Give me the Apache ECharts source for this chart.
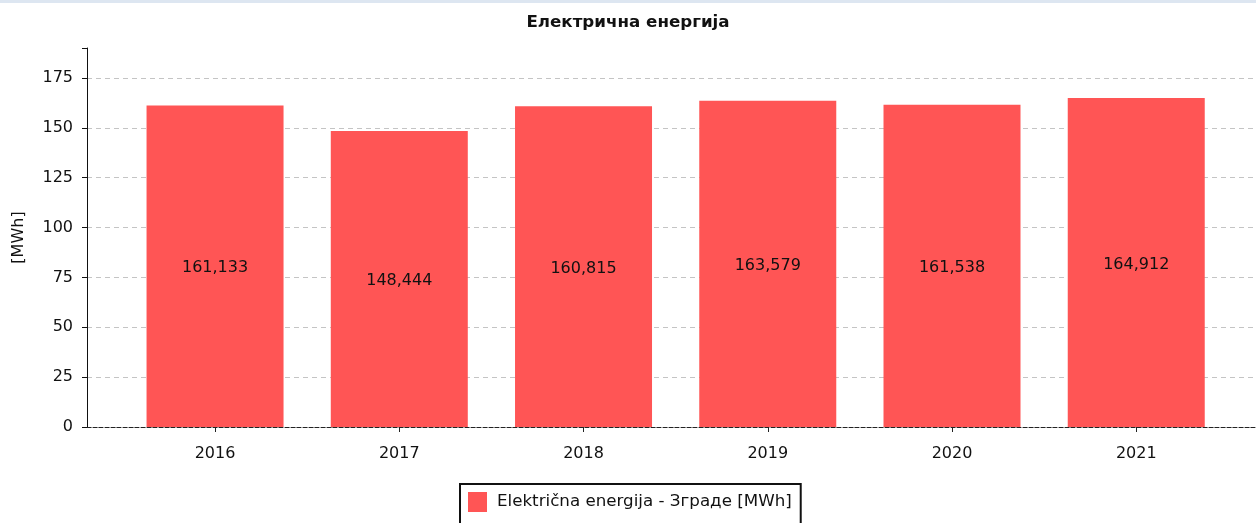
<!DOCTYPE html>
<html>
<head>
<meta charset="utf-8">
<title>Електрична енергија</title>
<script src="https://cdn.jsdelivr.net/npm/echarts@6/dist/echarts.min.js"></script>
<style>
  html, body { margin: 0; padding: 0; background: #fff; }
  #chart { width: 1256px; height: 523px; }
  #topbar { position: absolute; left: 0; top: 0; width: 1256px; height: 3px; background: #dde6f1; }
</style>
</head>
<body>
<div id="chart"></div>
<div id="topbar"></div>
<script>
// Annual electricity consumption of buildings, MWh
const years = [2016, 2017, 2018, 2019, 2020, 2021];
const consumption = [161.133, 148.444, 160.815, 163.579, 161.538, 164.912];
const yTicks = [0, 25, 50, 75, 100, 125, 150, 175];

const chartTitle = 'Електрична енергија';
const seriesName = 'Električna energija - Зграде [MWh]';
const unitLabel = '[MWh]';

const font = 'DejaVu Sans';
const fmt = v => v.toFixed(3).replace('.', ',');

const chart = echarts.init(document.getElementById('chart'), null, { renderer: 'canvas' });

// split lines: dashed grey for ticks, none for the top edge of the axis
const splitColors = yTicks.map(() => '#c4c4c4').concat(['rgba(0,0,0,0)']);

chart.setOption({
  animation: false,
  textStyle: { fontFamily: font },
  title: {
    text: chartTitle,
    left: 'center',
    top: 9,
    textStyle: { fontFamily: font, fontSize: 16.7, fontWeight: 'bold', color: '#111' }
  },
  legend: {
    data: [seriesName],
    left: 460,
    top: 484,
    itemWidth: 19,
    itemHeight: 20,
    itemGap: 8,
    padding: [8, 9, 16, 8],
    borderColor: '#111',
    borderWidth: 2,
    icon: 'rect',
    textStyle: { fontFamily: font, fontSize: 16.7, color: '#111', padding: [0, 0, 0, 5] }
  },
  grid: { left: 87, top: 48, right: 0, height: 379, containLabel: false },
  xAxis: {
    type: 'value',
    min: 2015.305,
    max: 2021.65,
    axisLine: { show: true, onZero: false, lineStyle: { color: '#222', type: 'dashed', width: 1 } },
    axisTick: { show: true, length: 5, customValues: years, lineStyle: { color: '#222' } },
    axisLabel: {
      customValues: years,
      margin: 19,
      fontFamily: font,
      fontSize: 16,
      color: '#111',
      formatter: v => String(v)
    },
    splitLine: { show: false }
  },
  yAxis: {
    type: 'value',
    min: 0,
    max: 190,
    interval: 25,
    name: unitLabel,
    nameLocation: 'middle',
    nameGap: 60,
    nameRotate: 90,
    nameTextStyle: { fontFamily: font, fontSize: 16, color: '#111' },
    axisLine: { show: true, lineStyle: { color: '#111', width: 1 } },
    axisTick: { show: true, length: 5, lineStyle: { color: '#111' } },
    axisLabel: {
      customValues: yTicks,
      margin: 14,
      fontFamily: font,
      fontSize: 16,
      color: '#111'
    },
    splitLine: { show: true, lineStyle: { type: [5, 4], color: splitColors, width: 1 } }
  },
  series: [{
    name: seriesName,
    type: 'bar',
    barWidth: 137,
    data: years.map((y, i) => [y, consumption[i]]),
    itemStyle: { color: '#ff5555' },
    label: {
      show: true,
      position: 'inside',
      offset: [0, 2],
      fontFamily: font,
      fontSize: 16,
      color: '#111',
      formatter: p => fmt(p.value[1])
    }
  }]
});
</script>
</body>
</html>
